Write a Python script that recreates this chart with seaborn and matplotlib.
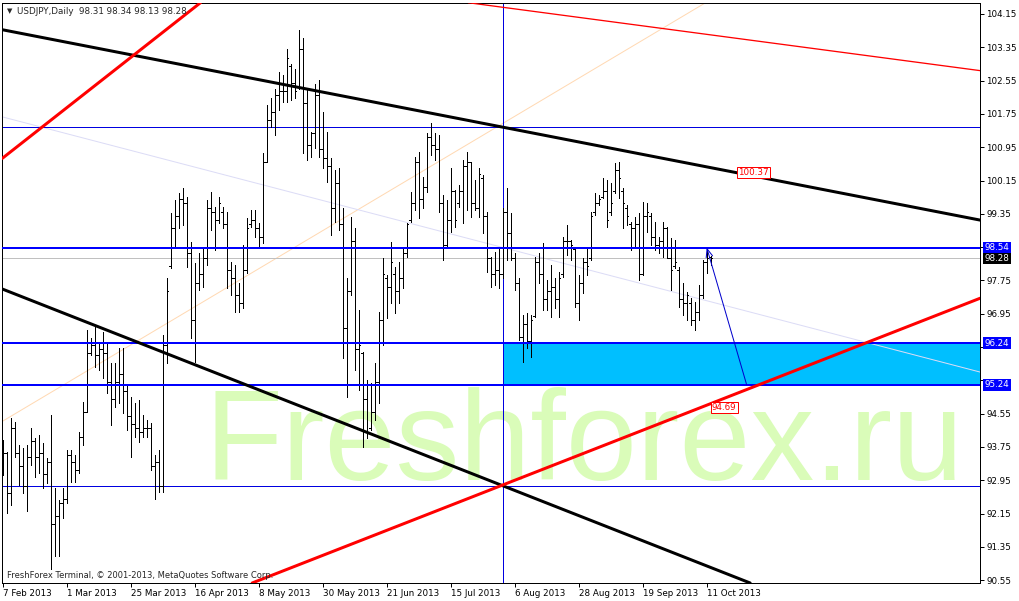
"""USDJPY daily bar chart with trend lines, redrawn after a MetaTrader screenshot."""

import matplotlib

matplotlib.use("Agg")

import matplotlib.pyplot as plt
import numpy as np
import pandas as pd
import seaborn as sns
from matplotlib.patches import Rectangle

SYMBOL = "USDJPY,Daily"
FIRST_DAY = "2013-02-07"

OPEN = [
    93.40, 93.60, 92.64, 94.20, 93.60, 93.30, 92.80, 93.50, 93.90, 93.50,
    93.60, 93.10, 93.40, 91.90, 92.10, 92.40, 92.50, 93.55, 93.40, 93.20,
    94.00, 94.60, 96.00, 96.20, 95.95, 96.10, 96.00, 95.30, 94.90, 95.30,
    95.50, 95.10, 94.50, 94.30, 94.20, 94.10, 94.20, 94.20, 93.30, 93.40,
    92.80, 96.20, 98.10, 99.00, 99.30, 99.70, 99.60, 98.40, 96.80, 97.70,
    97.90, 98.30, 99.50, 99.40, 99.20, 99.40, 99.10, 98.00, 97.80, 97.40,
    97.20, 98.00, 99.10, 99.20, 99.00, 98.80, 100.60, 101.60, 101.80, 102.20,
    102.30, 102.30, 102.90, 102.50, 102.40, 103.30, 102.00, 101.00, 101.30, 102.20,
    100.90, 100.70, 100.50, 99.50, 100.10, 99.10, 96.60, 97.50, 98.70, 96.10,
    96.00, 94.90, 94.20, 94.60, 95.30, 96.80, 97.80, 97.60, 97.90, 97.50,
    97.80, 98.40, 99.20, 99.60, 100.60, 99.70, 100.00, 101.20, 101.00, 100.90,
    99.60, 98.60, 99.20, 99.90, 99.60, 99.90, 100.50, 100.60, 99.60, 99.50,
    100.20, 99.30, 98.30, 97.90, 98.00, 97.90, 99.40, 98.90, 98.30, 97.70,
    96.40, 96.70, 96.30, 96.90, 98.20, 97.90, 97.30, 97.50, 97.60, 97.30,
    97.90, 98.70, 98.70, 98.50, 97.20, 97.70, 98.20, 98.30, 99.40, 99.60,
    99.75, 99.90, 99.40, 99.90, 100.40, 99.90, 99.50, 99.10, 99.00, 99.10,
    97.90, 99.30, 99.30, 98.80, 98.60, 98.70, 99.00, 98.30, 98.10, 98.00,
    97.30, 97.20, 97.20, 96.80, 97.00, 97.40, 98.20, 98.31,
]
HIGH = [
    93.92, 93.64, 94.44, 94.36, 93.80, 93.72, 93.80, 94.20, 93.96, 94.04,
    93.84, 93.48, 94.52, 92.76, 92.48, 92.76, 93.68, 93.68, 93.56, 94.12,
    94.84, 96.56, 96.36, 96.64, 96.24, 96.52, 96.24, 95.76, 95.76, 96.12,
    96.12, 95.24, 94.96, 94.80, 94.88, 94.52, 94.40, 94.32, 93.55, 93.68,
    96.44, 97.80, 99.36, 99.68, 99.84, 99.96, 99.76, 98.68, 98.16, 98.40,
    98.56, 99.68, 99.88, 99.52, 99.76, 99.52, 99.40, 98.20, 98.12, 97.68,
    98.60, 99.24, 99.44, 99.44, 99.12, 100.80, 101.96, 102.12, 102.36, 102.76,
    102.68, 103.32, 102.96, 102.84, 103.77, 103.57, 102.32, 101.32, 102.48, 102.56,
    101.80, 101.32, 100.68, 100.40, 100.44, 99.48, 97.80, 99.28, 99.00, 97.04,
    96.04, 95.36, 95.28, 95.76, 97.00, 98.28, 97.88, 98.68, 98.08, 98.20,
    98.56, 99.12, 99.88, 100.72, 100.84, 100.24, 101.28, 101.52, 101.28, 101.24,
    99.80, 99.68, 100.44, 99.92, 100.04, 100.64, 100.84, 100.60, 100.16, 100.44,
    100.28, 99.40, 98.32, 98.44, 98.52, 99.50, 99.96, 99.36, 98.40, 97.80,
    96.92, 96.96, 96.92, 98.32, 98.40, 98.64, 97.76, 98.12, 97.80, 97.96,
    98.80, 99.08, 98.72, 98.52, 97.88, 98.28, 98.52, 99.40, 99.84, 99.80,
    100.20, 100.16, 100.08, 100.56, 100.60, 99.96, 99.56, 99.16, 99.28, 99.36,
    99.64, 99.60, 99.36, 99.16, 98.80, 99.16, 99.04, 98.76, 98.72, 98.08,
    97.68, 97.48, 97.32, 97.24, 97.64, 98.24, 98.52, 98.34,
]
LOW = [
    93.08, 92.16, 92.36, 93.52, 92.84, 92.64, 92.20, 93.32, 93.04, 93.12,
    92.76, 92.88, 90.83, 91.12, 91.12, 92.04, 92.40, 92.92, 92.92, 93.12,
    93.80, 94.60, 95.96, 95.68, 95.60, 95.40, 95.04, 94.28, 94.72, 94.80,
    94.56, 94.16, 93.51, 94.00, 93.87, 94.00, 94.00, 93.20, 92.51, 92.67,
    92.67, 95.76, 98.04, 98.56, 99.00, 99.08, 98.08, 96.36, 95.80, 97.52,
    97.60, 98.12, 98.96, 98.48, 99.12, 99.00, 97.56, 97.40, 97.00, 97.00,
    97.08, 97.92, 99.04, 98.80, 98.56, 98.64, 100.60, 101.44, 101.24, 101.84,
    102.04, 102.04, 102.08, 102.12, 102.36, 100.80, 100.64, 100.72, 100.92, 100.72,
    100.44, 100.12, 98.84, 99.16, 98.96, 95.88, 94.96, 97.40, 95.60, 95.12,
    93.76, 93.96, 94.16, 94.40, 94.80, 96.20, 96.84, 97.20, 96.96, 97.20,
    97.56, 98.32, 99.16, 99.44, 99.24, 99.48, 99.88, 100.76, 100.64, 99.40,
    98.24, 98.56, 98.92, 99.04, 99.52, 99.12, 99.44, 99.28, 99.44, 99.28,
    98.88, 97.96, 97.60, 97.64, 97.56, 97.80, 98.24, 98.24, 97.52, 96.32,
    95.80, 96.12, 95.92, 96.88, 97.68, 97.04, 97.04, 96.88, 97.08, 96.88,
    97.84, 98.36, 98.24, 97.12, 96.80, 97.44, 97.88, 98.24, 99.32, 99.56,
    99.72, 99.04, 99.32, 99.84, 99.72, 99.00, 99.08, 98.48, 98.56, 97.76,
    97.88, 98.92, 98.60, 98.48, 98.40, 98.32, 98.28, 97.52, 98.04, 97.12,
    96.92, 96.80, 96.68, 96.56, 96.80, 97.32, 97.92, 98.13,
]
CLOSE = [
    93.60, 92.64, 94.20, 93.60, 93.30, 92.80, 93.50, 93.90, 93.50, 93.60,
    93.10, 93.40, 91.90, 92.10, 92.40, 92.50, 93.55, 93.40, 93.20, 94.00,
    94.60, 96.00, 96.20, 95.95, 96.10, 96.00, 95.30, 94.90, 95.30, 95.50,
    95.10, 94.50, 94.30, 94.20, 94.10, 94.20, 94.20, 93.30, 93.40, 92.80,
    96.20, 97.50, 99.00, 99.30, 99.70, 99.60, 98.40, 96.80, 97.70, 97.90,
    98.30, 99.50, 99.40, 99.20, 99.60, 99.10, 98.00, 97.80, 97.40, 97.20,
    98.00, 99.00, 99.20, 99.00, 98.80, 100.60, 101.60, 101.80, 102.20, 102.30,
    102.30, 103.10, 102.50, 102.30, 103.30, 102.00, 101.00, 101.30, 102.20, 100.90,
    100.70, 100.50, 99.50, 100.10, 99.10, 96.60, 97.50, 98.70, 96.10, 96.20,
    94.90, 94.10, 94.60, 95.30, 96.80, 97.90, 97.60, 98.20, 97.50, 97.80,
    98.40, 99.10, 99.60, 100.60, 99.70, 100.00, 101.20, 101.00, 100.90, 99.60,
    98.60, 99.20, 99.90, 99.20, 99.90, 100.50, 100.60, 99.60, 99.50, 100.30,
    99.30, 98.30, 97.90, 98.00, 97.90, 99.40, 98.90, 98.30, 97.70, 96.40,
    96.70, 96.30, 96.80, 98.20, 97.90, 97.30, 97.50, 97.60, 97.30, 97.80,
    98.70, 98.70, 98.60, 97.20, 97.70, 98.20, 98.10, 99.30, 99.60, 99.70,
    99.90, 99.20, 99.60, 100.40, 100.20, 99.60, 99.30, 99.00, 99.10, 97.90,
    99.30, 99.40, 98.80, 98.60, 98.70, 99.00, 98.30, 98.00, 98.20, 97.30,
    97.20, 97.40, 96.80, 97.00, 97.40, 98.20, 98.30, 98.28,
]

PRICE_TICKS = [
    104.15, 103.35, 102.55, 101.75, 100.95, 100.15, 99.35, 98.55, 97.75,
    96.95, 96.15, 95.35, 94.55, 93.75, 92.95, 92.15, 91.35, 90.55,
]
# tick labels hidden behind the price tags on the right
COVERED_TICKS = [98.55, 96.15, 95.35]
DATE_TICK_STEP = 16

# horizontal levels
THICK_LEVELS = [98.54, 96.24, 95.24]
THIN_LEVELS = [101.44, 92.81]
BID = 98.28
ZONE_LOW, ZONE_HIGH = 95.24, 96.24
ZONE_START_BAR = 125
VLINE_BAR = 125

# trend lines as two anchors each: (bar, price)
BLACK_UPPER = [(0.0, 103.77), (244.3, 99.20)]
BLACK_LOWER = [(0.0, 97.54), (185.6, 90.53)]
RED_LOWER = [(124.3, 92.81), (244.3, 97.32)]
RED_UPPER = [(0.0, 100.69), (49.3, 104.41)]
RED_THIN = [(224.3, 103.045), (244.3, 102.79)]
PEACH_THIN = [(0.0, 94.37), (175.6, 104.414)]
LAVENDER_THIN = [(0.0, 101.676), (244.3, 95.55)]
ARROW = [(176.0, 98.54), (186.0, 95.24)]

PRICE_LABELS = [(183.9, 100.35, "100.37"), (177.3, 94.69, "94.69")]
TAGS = [(98.54, "#0000ff"), (98.28, "#000000"), (96.24, "#0000ff"), (95.24, "#0000ff")]

W, H = 1020, 601
LEFT_PX, RIGHT_PX, TOP_PX, BOTTOM_PX = 2.2, 980.3, 2.7, 583.0
XMIN, XMAX = -0.125, 244.4
YMIN, YMAX = 90.482, 104.421
PX = 0.72  # one pixel in points at 100 dpi


def build_frame() -> pd.DataFrame:
    dates = pd.bdate_range(FIRST_DAY, periods=len(CLOSE))
    return pd.DataFrame(
        {"date": dates, "open": OPEN, "high": HIGH, "low": LOW, "close": CLOSE}
    )


def draw_bars(ax, df: pd.DataFrame) -> None:
    idx = np.arange(len(df))
    kw = dict(colors="black", linewidth=PX, antialiased=False, zorder=3)
    ax.vlines(idx, df["low"], df["high"], **kw)
    ax.hlines(df["open"], idx - 0.45, idx, **kw)
    ax.hlines(df["close"], idx, idx + 0.45, **kw)


def draw_objects(ax) -> None:
    ax.add_patch(
        Rectangle(
            (ZONE_START_BAR, ZONE_LOW), XMAX - ZONE_START_BAR, ZONE_HIGH - ZONE_LOW,
            facecolor="#00bfff", edgecolor="none", zorder=1,
        )
    )
    for level in THICK_LEVELS:
        ax.axhline(level, color="#0000ff", linewidth=2 * PX, zorder=4)
    for level in THIN_LEVELS:
        ax.axhline(level, color="#0000e0", linewidth=PX, antialiased=False, zorder=2)
    ax.axhline(BID, color="#c0c0c0", linewidth=PX, antialiased=False, zorder=2)
    ax.axvline(VLINE_BAR, color="#0000e0", linewidth=PX, antialiased=False, zorder=2)

    ax.axline(*PEACH_THIN, color="#ffd9b3", linewidth=PX, zorder=1.5)
    ax.axline(*LAVENDER_THIN, color="#dcdcf6", linewidth=PX, zorder=1.5)
    ax.axline(*RED_THIN, color="#ff0000", linewidth=1.3 * PX, zorder=4)
    for anchors in (BLACK_UPPER, BLACK_LOWER):
        ax.axline(*anchors, color="black", linewidth=3 * PX, zorder=4)
    for anchors in (RED_LOWER, RED_UPPER):
        ax.axline(*anchors, color="#ff0000", linewidth=3 * PX, zorder=4)

    (x0, y0), (x1, y1) = ARROW
    ax.annotate(
        "", xy=(x0, y0), xytext=(x1, y1),
        arrowprops=dict(arrowstyle="->,head_length=0.5,head_width=0.2",
                        color="#0000cc", linewidth=PX, shrinkA=0, shrinkB=0),
        zorder=5,
    )

    for bar, price, text in PRICE_LABELS:
        ax.text(
            bar, price, text, color="#ff0000", fontsize=6.3, ha="left", va="center",
            zorder=6,
            bbox=dict(boxstyle="square,pad=0.12", facecolor="white",
                      edgecolor="#ff0000", linewidth=PX),
        )


def draw_text(fig, ax) -> None:
    ax.text(
        0.2073, 0.1775, "Freshforex.ru", transform=ax.transAxes,
        family="Liberation Sans", fontsize=92, color="#dafcb9",
        ha="left", va="baseline", zorder=0.5,
    )
    ax.text(
        0.005, 0.008, "FreshForex Terminal, \u00a9 2001-2013, MetaQuotes Software Corp.",
        transform=ax.transAxes, fontsize=6.0, ha="left", va="baseline", zorder=6,
    )
    fig.text(7 / W, 1 - 11 / H, "\u25bc", fontsize=5, ha="left", va="center")
    fig.text(
        17 / W, 1 - 14 / H, f"{SYMBOL}  98.31 98.34 98.13 98.28",
        fontsize=6.3, ha="left", va="baseline",
    )
    for price, colour in TAGS:
        ax.text(
            1.0045, price, f"{price:.2f}", transform=ax.get_yaxis_transform(),
            color="white", fontsize=6.3, ha="left", va="center", zorder=7,
            clip_on=False,
            bbox=dict(boxstyle="square,pad=0.15", facecolor=colour, edgecolor="none"),
        )


def main() -> None:
    sns.set_theme(style="white")
    plt.rcParams["font.family"] = ["DejaVu Sans"]
    df = build_frame()

    fig = plt.figure(figsize=(W / 100, H / 100), dpi=100)
    ax = fig.add_axes([
        LEFT_PX / W, 1 - BOTTOM_PX / H,
        (RIGHT_PX - LEFT_PX) / W, (BOTTOM_PX - TOP_PX) / H,
    ])
    ax.set_facecolor("white")
    ax.set_xlim(XMIN, XMAX)
    ax.set_ylim(YMIN, YMAX)

    draw_objects(ax)
    draw_bars(ax, df)
    draw_text(fig, ax)

    for spine in ax.spines.values():
        spine.set_color("black")
        spine.set_linewidth(PX)

    ax.yaxis.tick_right()
    ax.set_yticks(PRICE_TICKS)
    ax.set_yticklabels(
        ["" if p in COVERED_TICKS else f"{p:.2f}" for p in PRICE_TICKS]
    )
    ax.tick_params(axis="y", direction="out", length=3, width=PX, pad=1.2,
                   labelsize=6.3, colors="black", right=True, left=False)

    tick_idx = list(range(0, len(df), DATE_TICK_STEP))
    ax.set_xticks(tick_idx)
    ax.set_xticklabels(
        [f"{d.day} {d:%b %Y}" for d in df["date"].iloc[tick_idx]], ha="left"
    )
    ax.tick_params(axis="x", direction="out", length=3, width=PX, pad=1.0,
                   labelsize=6.3, colors="black", bottom=True)
    ax.grid(False)

    fig.savefig("out.png", dpi=100, facecolor="white")
    plt.close(fig)


if __name__ == "__main__":
    main()
